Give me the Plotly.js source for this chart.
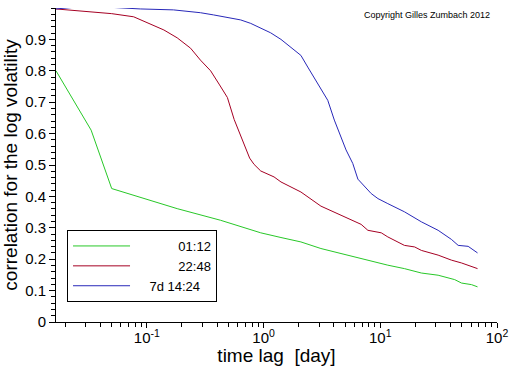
<!DOCTYPE html>
<html>
<head>
<meta charset="utf-8">
<script src="https://cdn.plot.ly/plotly-3.0.1.min.js"></script>
<style>html,body{margin:0;padding:0;background:#fff;}#chart{width:512px;height:366px;}</style>
</head>
<body>
<div id="chart"></div>
<script>
// time lags in days
var lagGreen = [0.01667, 0.03333, 0.05, 0.098, 0.182, 0.428, 0.946, 1.41, 2.09, 3.10, 4.61, 6.85, 10.2, 11.6, 16.1, 22.5, 31.3, 43.4, 49.7, 60.5, 68.1];
var corrGreen = [0.800, 0.611, 0.425, 0.391, 0.361, 0.324, 0.284, 0.269, 0.255, 0.234, 0.218, 0.202, 0.186, 0.181, 0.170, 0.156, 0.149, 0.135, 0.124, 0.119, 0.112];

var lagRed = [0.01667, 0.0349, 0.05, 0.0771, 0.1005, 0.14, 0.182, 0.237, 0.288, 0.352, 0.42, 0.49, 0.56, 0.64, 0.70, 0.76, 0.829, 0.946, 1.23, 1.41, 2.09, 3.10, 4.61, 6.85, 7.83, 10.2, 11.6, 16.1, 19.7, 22.5, 31.3, 40.7, 49.7, 60.5, 68.1];
var corrRed = [0.997, 0.987, 0.982, 0.972, 0.953, 0.930, 0.905, 0.872, 0.834, 0.800, 0.755, 0.715, 0.645, 0.590, 0.550, 0.522, 0.502, 0.481, 0.462, 0.446, 0.414, 0.369, 0.340, 0.311, 0.292, 0.284, 0.271, 0.244, 0.239, 0.228, 0.213, 0.197, 0.188, 0.177, 0.170];

var lagBlue = [0.01667, 0.0251, 0.05, 0.0879, 0.169, 0.288, 0.373, 0.637, 0.776, 0.946, 1.15, 1.41, 1.71, 2.09, 2.39, 2.81, 3.55, 4.04, 5.09, 5.81, 6.21, 6.43, 8.36, 9.55, 11.6, 16.1, 22.5, 31.3, 40.7, 46.5, 56.6, 60.5, 68.1];
var corrBlue = [0.997, 1.003, 1.002, 0.997, 0.994, 0.985, 0.978, 0.962, 0.951, 0.935, 0.921, 0.900, 0.876, 0.849, 0.812, 0.770, 0.706, 0.643, 0.548, 0.505, 0.470, 0.455, 0.409, 0.393, 0.377, 0.351, 0.319, 0.292, 0.263, 0.244, 0.241, 0.234, 0.220];

var seriesNames = ["01:12", "22:48", "7d 14:24"];
var seriesColors = ["rgb(40,200,40)", "rgb(165,0,35)", "rgb(40,40,185)"];

var xTickVals = [0.1, 1, 10, 100];
var xTickText = ["10<sup>-1</sup>", "10<sup>0</sup>", "10<sup>1</sup>", "10<sup>2</sup>"];
var yTickVals = [0, 0.1, 0.2, 0.3, 0.4, 0.5, 0.6, 0.7, 0.8, 0.9];

var xMinor = [];
for (var d = -2; d <= 1; d++) {
  for (var k = 2; k <= 9; k++) {
    var v = k * Math.pow(10, d);
    if (v > 1/60) xMinor.push(v);
  }
}

// right-align legend labels with non-breaking spaces
function pad(name) {
  var n = name.length >= 8 ? 4 : 12;
  return "\u00a0".repeat(n) + name;
}

var lags = [lagGreen, lagRed, lagBlue];
var corrs = [corrGreen, corrRed, corrBlue];
var traces = [];
for (var i = 0; i < 3; i++) {
  traces.push({
    x: lags[i], y: corrs[i], type: "scatter", mode: "lines",
    name: pad(seriesNames[i]),
    line: {color: seriesColors[i], width: 1}
  });
}

var font = "Liberation Sans, Arial, Helvetica, sans-serif";
var layout = {
  width: 512, height: 366,
  margin: {l: 56, r: 15, t: 8, b: 44},
  paper_bgcolor: "#fff", plot_bgcolor: "#fff",
  font: {family: font, color: "#000", size: 15},
  showlegend: true,
  legend: {
    x: 0.025, y: 0.293, xanchor: "left", yanchor: "top",
    bgcolor: "#fff", bordercolor: "#000", borderwidth: 1,
    font: {family: font, size: 13, color: "#000"},
    itemwidth: 57, tracegroupgap: 0
  },
  xaxis: {
    type: "log", range: [Math.log10(1/60), 2],
    showgrid: false, zeroline: false,
    showline: true, linecolor: "#000", linewidth: 1, mirror: false,
    ticks: "outside", ticklen: 5, tickcolor: "#000", tickwidth: 1,
    tickmode: "array", tickvals: xTickVals, ticktext: xTickText,
    tickfont: {size: 15}, ticklabelstandoff: -3,
    minor: {tickmode: "array", tickvals: xMinor, ticks: "outside", ticklen: 4, tickcolor: "#000", showgrid: false},
    title: {text: "time lag  [day]", font: {size: 19}, standoff: 9}
  },
  yaxis: {
    range: [0, 1],
    showgrid: false, zeroline: false,
    showline: true, linecolor: "#000", linewidth: 1, mirror: false,
    ticks: "outside", ticklen: 6, tickcolor: "#000", tickwidth: 1,
    tickmode: "array", tickvals: yTickVals,
    tickfont: {size: 15},
    minor: {dtick: 0.02, ticks: "outside", ticklen: 4, tickcolor: "#000", showgrid: false},
    title: {text: "correlation for the log volatility", font: {size: 19}, standoff: 4}
  },
  annotations: [{
    xref: "paper", yref: "paper", x: 0.989, y: 0.978,
    xanchor: "right", yanchor: "middle", showarrow: false,
    text: "Copyright Gilles Zumbach 2012", font: {size: 9, color: "#000"}
  }]
};

Plotly.newPlot("chart", traces, layout, {staticPlot: true, displayModeBar: false});
</script>
</body>
</html>
